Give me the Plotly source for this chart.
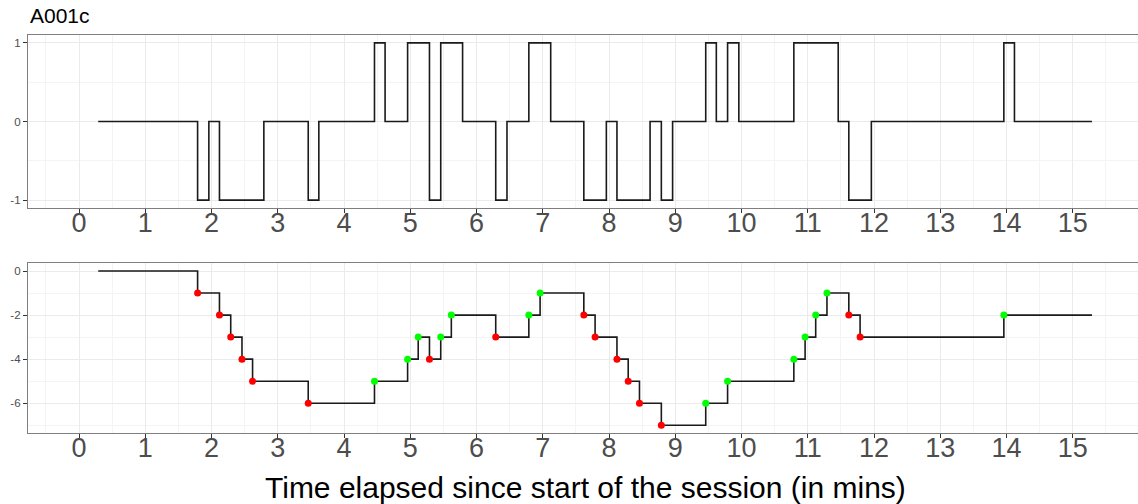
import plotly.graph_objects as go

# ---------------- data ----------------
panel_title = "A001c"
x_axis_title = "Time elapsed since start of the session (in mins)"

# Top panel: state changes (time in mins, state value)
state_times = [0.29, 1.79, 1.96, 2.12, 2.79, 3.46, 3.62, 4.46, 4.62, 4.96,
               5.29, 5.46, 5.79, 6.29, 6.46, 6.79, 7.12, 7.62, 7.96, 8.12,
               8.62, 8.79, 8.96, 9.46, 9.62, 9.79, 9.96, 10.79, 11.46, 11.62,
               11.96, 13.96, 14.12, 15.29]
state_values = [0, -1, 0, -1, 0, -1, 0, 1, 0, 1,
                -1, 1, 0, -1, 0, 1, 0, -1, 0, -1,
                0, -1, 0, 1, 0, 1, 0, 1, 0, -1,
                0, 1, 0, 0]

# Bottom panel: cumulative score at each event
session_start = 0.29
session_end = 15.29
start_value = 0
event_times = [1.79, 2.12, 2.29, 2.46, 2.62, 3.46, 4.46, 4.96, 5.12, 5.29,
               5.46, 5.62, 6.29, 6.79, 6.96, 7.62, 7.79, 8.12, 8.29, 8.46,
               8.79, 9.46, 9.79, 10.79, 10.96, 11.12, 11.29, 11.62, 11.79, 13.96]
event_values = [-1, -2, -3, -4, -5, -6, -5, -4, -3, -4,
                -3, -2, -3, -2, -1, -2, -3, -4, -5, -6,
                -7, -6, -5, -4, -3, -2, -1, -2, -3, -2]
event_kind = ["down", "down", "down", "down", "down", "down", "up", "up", "up", "down",
              "up", "up", "down", "up", "up", "down", "down", "down", "down", "down",
              "down", "up", "up", "up", "up", "up", "up", "down", "down", "up"]

x_tick_values = list(range(0, 16))
top_y_ticks = [-1, 0, 1]
bottom_y_ticks = [0, -2, -4, -6]

# ---------------- styling ----------------
FONT = "Liberation Sans, Arial, Helvetica, sans-serif"
LINE_COL = "#1a1a1a"
KIND_COLOR = {"down": "#FF0000", "up": "#00FF00"}

fig = go.Figure()

# top step line
fig.add_trace(go.Scatter(x=state_times, y=state_values, mode="lines",
                         line=dict(shape="hv", color=LINE_COL, width=1.6),
                         xaxis="x", yaxis="y", showlegend=False, hoverinfo="skip"))

# bottom step line
bx = [session_start] + event_times + [session_end]
by = [start_value] + event_values + [event_values[-1]]
fig.add_trace(go.Scatter(x=bx, y=by, mode="lines",
                         line=dict(shape="hv", color=LINE_COL, width=1.6),
                         xaxis="x2", yaxis="y2", showlegend=False, hoverinfo="skip"))

# bottom points
fig.add_trace(go.Scatter(x=event_times, y=event_values, mode="markers",
                         marker=dict(size=7, color=[KIND_COLOR[k] for k in event_kind],
                                     line=dict(width=0)),
                         xaxis="x2", yaxis="y2", showlegend=False))

x_range = [-0.77, 15.985]

common_x = dict(range=x_range, tickmode="array", tickvals=x_tick_values,
                ticktext=[str(v) for v in x_tick_values], automargin=False,
                showgrid=True, gridcolor="#EBEBEB", gridwidth=1.3,
                minor=dict(showgrid=True, gridcolor="#F4F4F4", gridwidth=0.8,
                           tickmode="array",
                           tickvals=[v + 0.5 for v in range(-1, 16)]),
                zeroline=False, showline=True, mirror=True, linecolor="#7f7f7f",
                linewidth=1.2, ticks="outside", ticklen=4, tickwidth=1.1,
                tickcolor="#333333", ticklabelstandoff=-14,
                tickfont=dict(family=FONT, size=27, color="#4D4D4D"))

common_y = dict(showgrid=True, gridcolor="#EBEBEB", gridwidth=1.3, automargin=False,
                zeroline=False, showline=True, mirror=False, linecolor="#7f7f7f",
                linewidth=1.2, ticks="outside", ticklen=4, tickwidth=1.1,
                tickcolor="#333333",
                tickfont=dict(family=FONT, size=11.5, color="#4D4D4D"))

fig.update_layout(
    width=1138, height=504,
    margin=dict(l=28, r=0, t=35, b=71),
    paper_bgcolor="white", plot_bgcolor="white",
    font=dict(family=FONT),
    xaxis=dict(anchor="y", domain=[0, 1], **common_x),
    xaxis2=dict(anchor="y2", domain=[0, 1], **common_x),
    yaxis=dict(anchor="x", domain=[0.5653, 1], range=[-1.1, 1.1],
               tickmode="array", tickvals=top_y_ticks,
               ticktext=[str(v) for v in top_y_ticks],
               minor=dict(showgrid=True, gridcolor="#F4F4F4", gridwidth=0.8,
                          tickmode="array", tickvals=[-0.5, 0.5]),
               **common_y),
    yaxis2=dict(anchor="x2", domain=[0, 0.4264], range=[-7.35, 0.35],
                tickmode="array", tickvals=bottom_y_ticks,
                ticktext=[str(v) for v in bottom_y_ticks],
                minor=dict(showgrid=True, gridcolor="#F4F4F4", gridwidth=0.8,
                           tickmode="array", tickvals=[-1, -3, -5, -7]),
                **common_y),
    annotations=[
        dict(text=panel_title, xref="paper", yref="paper", x=0.0, y=1.05,
             xanchor="left", yanchor="middle", showarrow=False,
             font=dict(family=FONT, size=21, color="black")),
        dict(text=x_axis_title, xref="paper", yref="paper", x=0.502, y=-0.1357,
             xanchor="center", yanchor="middle", showarrow=False,
             font=dict(family=FONT, size=30, color="black")),
    ],
)

# remove the page's default body margin so the figure fills the window exactly
fig.write_html("out.html",
               config={"displayModeBar": False},
               post_script="document.body.style.margin='0';document.body.style.overflow='hidden';")
